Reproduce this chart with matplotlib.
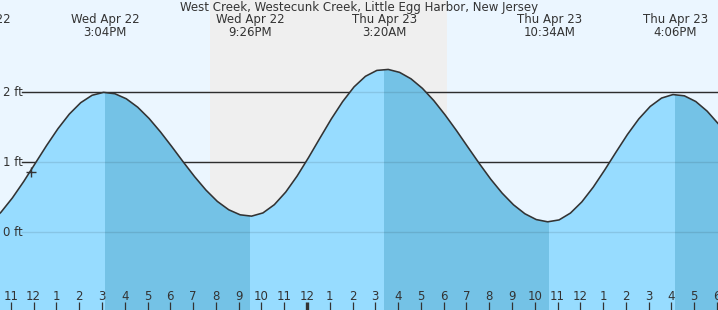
import numpy as np
import matplotlib
matplotlib.use("Agg")
import matplotlib.pyplot as plt
from matplotlib.transforms import blended_transform_factory

plt.rcParams['font.family'] = ['DejaVu Sans']

title = "West Creek, Westecunk Creek, Little Egg Harbor, New Jersey"

# hours since Wed Apr 22 00:00, sampled every half hour from 10:00
start_hour = 10.0
step_hours = 0.5
heights = [0.131, 0.287, 0.491, 0.727, 0.983, 1.239, 1.480, 1.689, 1.852, 1.958,
           1.999, 1.980, 1.908, 1.788, 1.627, 1.435, 1.224, 1.006, 0.795, 0.603,
           0.441, 0.322, 0.250, 0.231, 0.277, 0.395, 0.575, 0.804, 1.067, 1.345,
           1.619, 1.868, 2.078, 2.229, 2.313, 2.327, 2.285, 2.193, 2.057, 1.882,
           1.676, 1.452, 1.216, 0.982, 0.759, 0.560, 0.393, 0.265, 0.182, 0.150,
           0.177, 0.275, 0.435, 0.645, 0.889, 1.146, 1.397, 1.620, 1.798, 1.918,
           1.968, 1.950, 1.869, 1.731, 1.547]

# tide extremes (hours since Wed 00:00)
high_times = [15.067, 27.333, 40.100]
low_times = [21.433, 34.567, 46.120]

label_times = [9.40, 15.067, 21.433, 27.333, 34.567, 40.100]
label_days = ["Wed Apr 22", "Wed Apr 22", "Wed Apr 22", "Thu Apr 23", "Thu Apr 23", "Thu Apr 23"]
label_clock = ["9:24AM", "3:04PM", "9:26PM", "3:20AM", "10:34AM", "4:06PM"]

night_start, night_end = 19.68, 30.08
now_time, now_height = 11.805, 0.86

y_levels = [0, 1, 2]
y_labels = ["0 ft", "1 ft", "2 ft"]

tick_hours = list(range(11, 43))

def hour_label(h):
    hh = h % 12
    return str(12 if hh == 0 else hh)

tick_labels = [hour_label(h) for h in tick_hours]

times = start_hour + step_hours * np.arange(len(heights))

DAY_BG = "#ebf6ff"
NIGHT_BG = "#efefef"
WATER_LIGHT = "#97dcff"
WATER_DARK = "#74c2e6"
INK = "#333333"
FS = 8.5

fig = plt.figure(figsize=(7.18, 3.10), dpi=100)
ax = fig.add_axes([0, 0, 1, 1])
ax.set_xlim(10.457, 41.977)
ax.set_ylim(-1.11, 3.319)
ax.set_facecolor(DAY_BG)
ax.set_axisbelow(False)
for s in ax.spines.values():
    s.set_visible(False)

ax.axvspan(night_start, night_end, color=NIGHT_BG, zorder=0.5, lw=0)

# grid lines under the water
for lv in y_levels:
    ax.axhline(lv, xmin=22 / 718, xmax=1, color=INK, lw=1.0, zorder=1)

water = ax.fill_between(times, heights, -5, color=WATER_LIGHT, lw=0, zorder=2)
clip = water.get_paths()[0]
for hi, lo in zip(high_times, low_times):
    sp = ax.axvspan(hi, lo, color=WATER_DARK, lw=0, zorder=2.1)
    sp.set_clip_path(clip, transform=ax.transData)

# faint grid lines over the water
for lv in y_levels:
    ax.axhline(lv, xmin=22 / 718, xmax=1, color="black", alpha=0.1, lw=1.0, zorder=2.3)

ax.plot(times, heights, color=INK, lw=1.15, zorder=3, solid_capstyle="round")
ax.plot([now_time], [now_height], marker="+", color=INK, markersize=6.5, mew=1.0, zorder=4)

# y labels
ty = blended_transform_factory(ax.transAxes, ax.transData)
for lv, lab in zip(y_levels, y_labels):
    ax.text(3 / 718, lv, lab, transform=ty, ha="left", va="center",
            fontsize=FS, color=INK, zorder=5)

# hour ticks
tick_pos = [h - 0.066 for h in tick_hours]
ax.set_xticks(tick_pos)
ax.set_xticklabels([])
ax.tick_params(axis="x", direction="in", length=5.8, width=0.9, color=INK, bottom=True)
ax.set_yticks([])
for tk, h in zip(ax.xaxis.get_major_ticks(), tick_hours):
    if h % 24 == 0:
        tk.tick1line.set_markeredgewidth(2.4)
tx = blended_transform_factory(ax.transData, ax.transAxes)
for p, lab in zip(tick_pos, tick_labels):
    ax.text(p, 10 / 310, lab, transform=tx, ha="center", va="baseline",
            fontsize=FS, color=INK, zorder=5)

# extreme labels
for t, d, c in zip(label_times, label_days, label_clock):
    ax.text(t, 1 - 20 / 310, d, transform=tx, ha="center", va="center",
            fontsize=FS, color=INK, zorder=5, clip_on=False)
    ax.text(t, 1 - 32 / 310, c, transform=tx, ha="center", va="center",
            fontsize=FS, color=INK, zorder=5, clip_on=False)

fig.text(0.5, 1 - 7 / 310, title, ha="center", va="center", fontsize=FS, color=INK)

fig.savefig("out.png", dpi=100)
